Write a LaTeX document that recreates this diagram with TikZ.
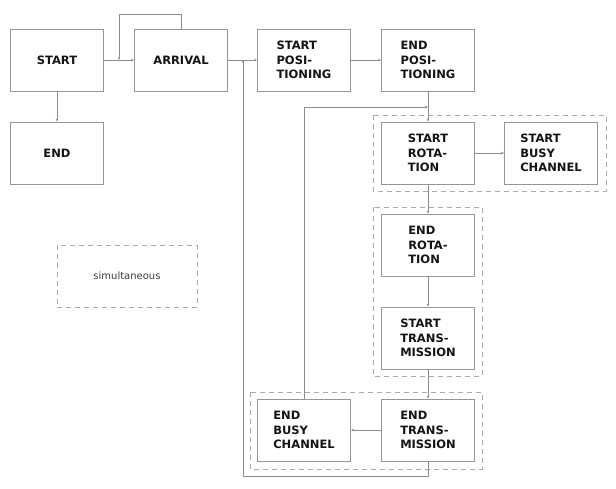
\documentclass[tikz,border=0pt]{standalone}
\usepackage{fontspec}
\setmainfont{DejaVu Sans}
\usetikzlibrary{arrows.meta}
\definecolor{boxgray}{RGB}{150,150,150}
\definecolor{linegray}{RGB}{140,140,140}
\definecolor{dashgray}{RGB}{170,170,170}
\definecolor{txt}{RGB}{20,20,20}
\tikzset{
  evbox/.style={draw=boxgray, line width=0.9pt, minimum width=93pt, minimum height=62pt,
    inner sep=0pt, align=left, font=\bfseries\fontsize{11.5}{14.7}\selectfont, text=txt},
  conn/.style={draw=linegray, line width=0.8pt, -{Stealth[length=3pt,width=2.6pt]}},
  plain/.style={draw=linegray, line width=0.8pt},
  simbox/.style={draw=dashgray, line width=0.9pt, dash pattern=on 5pt off 4pt},
}
\begin{document}
\begin{tikzpicture}[x=1pt,y=-1pt]
\useasboundingbox (0,0) rectangle (616,488);
% dashed groups
\draw[simbox] (373,115) rectangle (606,191);
\draw[simbox] (373,207) rectangle (482,376);
\draw[simbox] (250,392) rectangle (482,469);
\node[simbox, minimum width=140pt, minimum height=62pt, inner sep=0pt,
  font=\fontsize{10}{12}\selectfont, text={rgb,255:red,60;green,60;blue,60}] (sim) at (127,276) {simultaneous};
% nodes
\node[evbox] (start) at (57,60) {START};
\node[evbox] (arrival) at (181,60) {ARRIVAL};
\node[evbox] (end) at (57,153) {END};
\node[evbox] (spos) at (304,60) {START\\POSI-\\TIONING};
\node[evbox] (epos) at (428,60) {END\\POSI-\\TIONING};
\node[evbox] (srot) at (428,153) {START\\ROTA-\\TION};
\node[evbox] (sbusy) at (551,153) {START\\BUSY\\CHANNEL};
\node[evbox] (erot) at (428,245) {END\\ROTA-\\TION};
\node[evbox] (strans) at (428,338) {START\\TRANS-\\MISSION};
\node[evbox] (etrans) at (428,430) {END\\TRANS-\\MISSION};
\node[evbox] (ebusy) at (304,430) {END\\BUSY\\CHANNEL};
% helper coordinates
\coordinate (loopc) at (119,14);
\coordinate (loopend) at (119,60);
\coordinate (rotin) at (428,107);
\coordinate (bl) at (243,476);
\coordinate (retend) at (243,60);
% connectors
\draw[conn] (start) -- (arrival);
\draw[conn] (arrival.north) |- (loopc) -- (loopend);
\draw[conn] (start) -- (end);
\draw[conn] (arrival) -- (spos);
\draw[conn] (spos) -- (epos);
\draw[conn] (epos) -- (srot);
\draw[conn] (ebusy.north) |- (rotin);
\draw[conn] (srot) -- (sbusy);
\draw[conn] (srot) -- (erot);
\draw[conn] (erot) -- (strans);
\draw[conn] (strans) -- (etrans);
\draw[conn] (etrans) -- (ebusy);
\draw[conn] (etrans.south) |- (bl) -- (retend);
\end{tikzpicture}
\end{document}
